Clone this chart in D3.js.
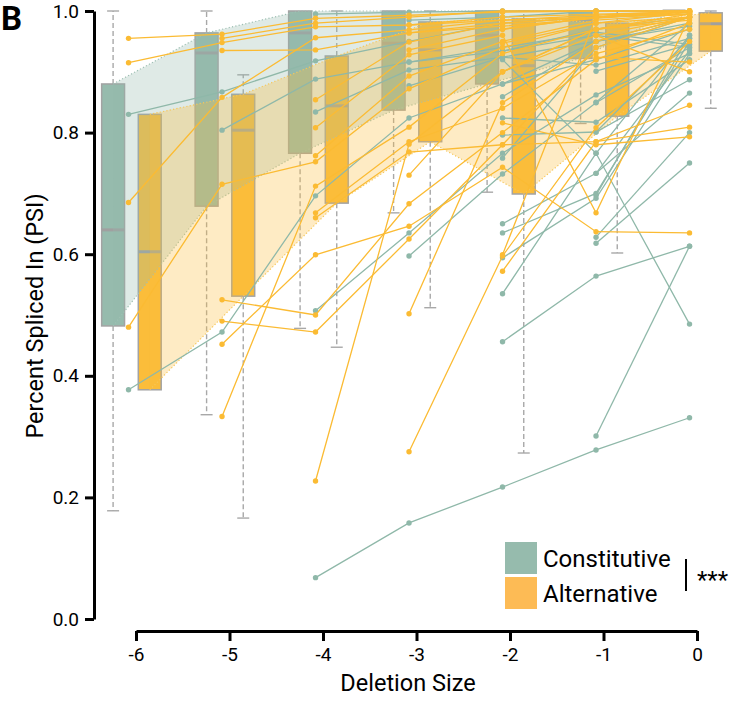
<!DOCTYPE html>
<html>
<head>
<meta charset="utf-8">
<script src="https://cdn.jsdelivr.net/npm/d3@7"></script>
<style>
  html, body { margin: 0; padding: 0; background: #fff; }
  svg { display: block; font-family: Roboto, "Noto Sans", sans-serif; }
</style>
</head>
<body>
<svg id="chart" width="739" height="708"></svg>
<script>
// ---------- data ----------
const deletionSizes = [-6, -5, -4, -3, -2, -1, 0];
const yTicks = [0, 0.2, 0.4, 0.6, 0.8, 1.0];

// constitutive box stats per deletion size
const constQ1     = [0.482, 0.679, 0.766, 0.837, 0.880, 0.922, 1.000];
const constMedian = [0.640, 0.931, 0.964, 0.947, 0.960, 0.985, 1.000];
const constQ3     = [0.880, 0.964, 1.000, 1.000, 1.000, 1.000, 1.000];
const constWhLow  = [0.178, 0.336, 0.478, 0.668, 0.702, 0.815, null];
const constWhHigh = [1.000, 1.000, null, null, null, null, null];

// alternative box stats per deletion size
const altQ1     = [0.377, 0.531, 0.684, 0.785, 0.699, 0.827, 0.934];
const altMedian = [0.604, 0.804, 0.844, 0.936, 0.910, 0.955, 0.979];
const altQ3     = [0.830, 0.863, 0.926, 0.982, 0.987, 0.980, 0.997];
const altWhLow  = [null, 0.166, 0.447, 0.512, 0.273, 0.602, 0.840];
const altWhHigh = [null, 0.895, 1.000, 1.000, 1.000, 1.000, 1.000];

// individual exons: [start deletion size, PSI at start, ..., PSI at 0]
const constLines = [
  [-6, 0.830, 0.867, 0.918, 0.950, 0.980, 0.990, 0.995],
  [-6, 0.377, 0.472, 0.696, 0.824, 0.880, 0.950, 0.990],
  [-5, 0.804, 0.888, 0.916, 0.934, 0.970, 0.990],
  [-4, 0.995, 0.998, 1.000, 1.000, 1.000],
  [-4, 0.834, 0.903, 0.924, 0.911, 0.955],
  [-4, 0.507, 0.635, 0.766, 0.862, 0.930],
  [-4, 0.068, 0.158, 0.217, 0.278, 0.331],
  [-3, 0.597, 0.732, 0.849, 0.940],
  [-3, 0.985, 0.990, 1.000, 1.000],
  [-3, 0.877, 0.924, 0.950, 0.975],
  [-3, 0.916, 0.940, 0.965, 0.945],
  [-2, 0.859, 0.950, 0.980],
  [-2, 0.824, 0.817, 0.920],
  [-2, 0.796, 0.801, 0.887],
  [-2, 0.758, 0.940, 0.990],
  [-2, 0.650, 0.733, 0.865],
  [-2, 0.635, 0.700, 0.950],
  [-2, 0.594, 0.692, 0.930],
  [-2, 0.535, 0.766, 0.960],
  [-2, 0.456, 0.564, 0.613],
  [-2, 0.920, 0.766, 0.485],
  [-2, 0.934, 0.960, 0.940],
  [-2, 0.880, 0.920, 0.970],
  [-1, 0.301, 0.613],
  [-1, 0.628, 0.800],
  [-1, 0.618, 0.750],
  [-1, 0.697, 0.960],
  [-1, 0.850, 0.980],
  [-1, 0.901, 0.945],
  [-1, 0.733, 0.935],
  [-1, 0.801, 0.955]
];
const altLines = [
  [-6, 0.955, 0.962, 0.988, 0.993, 0.998, 1.000, 1.000],
  [-6, 0.915, 0.948, 0.974, 0.977, 0.990, 0.995, 0.998],
  [-6, 0.685, 0.858, 0.956, 0.969, 0.985, 0.990, 0.995],
  [-6, 0.480, 0.715, 0.752, 0.872, 0.940, 0.980, 0.990],
  [-5, 0.955, 0.980, 0.990, 1.000, 1.000, 1.000],
  [-5, 0.935, 0.936, 0.964, 0.980, 0.990, 1.000],
  [-5, 0.525, 0.500, 0.683, 0.800, 0.920, 0.980],
  [-5, 0.490, 0.472, 0.625, 0.780, 0.940, 0.990],
  [-5, 0.452, 0.599, 0.646, 0.743, 0.637, 0.635],
  [-5, 0.333, 0.712, 0.809, 0.930, 0.970, 0.995],
  [-4, 0.854, 0.949, 0.980, 0.990, 1.000],
  [-4, 0.808, 0.928, 0.960, 0.668, 0.990],
  [-4, 0.762, 0.893, 0.950, 0.985, 0.995],
  [-4, 0.668, 0.785, 0.840, 0.930, 0.970],
  [-4, 0.660, 0.768, 0.780, 0.785, 0.845],
  [-4, 0.227, 0.781, 0.900, 0.970, 0.990],
  [-3, 0.502, 0.849, 0.950, 0.990],
  [-3, 0.275, 0.597, 0.808, 0.950],
  [-3, 0.730, 0.900, 0.960, 0.990],
  [-3, 0.936, 0.970, 0.990, 1.000],
  [-3, 0.977, 0.985, 0.993, 1.000],
  [-3, 0.964, 0.975, 0.988, 0.998],
  [-2, 0.572, 0.785, 0.809],
  [-2, 0.947, 0.980, 0.998],
  [-2, 0.816, 0.780, 0.793],
  [-2, 0.599, 0.990, 1.000],
  [-2, 0.970, 0.990, 1.000],
  [-2, 0.900, 0.970, 0.985],
  [-1, 0.924, 0.916],
  [-1, 0.960, 0.900],
  [-1, 0.990, 0.995]
];

// ---------- styles ----------
const TEAL = "#96bbad", ORANGE = "#fbbd3a";
const TEAL_LINE = "#8fb8a9", ORANGE_LINE = "#fbbb33";
const BOX_STROKE = "#a3a3a3";

const svg = d3.select("#chart");
const x = d3.scaleLinear().domain([-6, 0]).range([136, 697]);
const y = d3.scaleLinear().domain([0, 1]).range([619, 11]);
const constOff = -0.245, altOff = 0.147, ptOff = -0.08, boxW = 0.245;
const pxW = x(boxW) - x(0);

function boxes(g, q1, med, q3, lo, hi, off, fill) {
  deletionSizes.forEach((d, i) => {
    const cx = x(d + off);
    [[q1[i], lo[i]], [q3[i], hi[i]]].forEach(([a, b]) => {
      if (b === null || Math.abs(a - b) < 1e-6) return;
      g.append("line").attr("x1", cx).attr("x2", cx).attr("y1", y(a)).attr("y2", y(b))
        .attr("stroke", "#a8a8a8").attr("stroke-width", 1.4).attr("stroke-dasharray", "5,3");
      g.append("line").attr("x1", cx - 6).attr("x2", cx + 6).attr("y1", y(b)).attr("y2", y(b))
        .attr("stroke", "#a8a8a8").attr("stroke-width", 1.4);
    });
    g.append("rect").attr("x", cx - pxW / 2).attr("width", pxW)
      .attr("y", y(q3[i])).attr("height", Math.max(0.01, y(q1[i]) - y(q3[i])))
      .attr("fill", fill).attr("stroke", BOX_STROKE).attr("stroke-width", 1.5);
    g.append("line").attr("x1", cx - pxW / 2).attr("x2", cx + pxW / 2)
      .attr("y1", y(med[i])).attr("y2", y(med[i]))
      .attr("stroke", "#a0a0a0").attr("stroke-width", 3);
  });
}

const gBox = svg.append("g");
boxes(gBox, constQ1, constMedian, constQ3, constWhLow, constWhHigh, constOff, TEAL);
boxes(gBox, altQ1, altMedian, altQ3, altWhLow, altWhHigh, altOff, ORANGE);

// ---------- bands ----------
function band(q1, q3, off, fill, edge) {
  const pts = deletionSizes.map((d, i) => ({ d: d + off, lo: q1[i], hi: q3[i] }));
  svg.append("path").datum(pts)
    .attr("d", d3.area().x(p => x(p.d)).y0(p => y(p.lo)).y1(p => y(p.hi)))
    .attr("fill", fill).attr("fill-opacity", 0.3).attr("stroke", "none");
  [p => p.lo, p => p.hi].forEach(acc => {
    svg.append("path").datum(pts)
      .attr("d", d3.line().x(p => x(p.d)).y(p => y(acc(p))))
      .attr("fill", "none").attr("stroke", edge).attr("stroke-width", 1.2)
      .attr("stroke-dasharray", "1.2,2.2");
  });
}
band(constQ1, constQ3, constOff, TEAL, "#9fc0b4");
band(altQ1, altQ3, altOff, ORANGE, "#f6c75a");

// ---------- exon lines ----------
function exonLines(lines, color) {
  const g = svg.append("g");
  lines.forEach(row => {
    const start = row[0];
    const pts = row.slice(1).map((v, k) => ({ d: start + k, v }));
    g.append("path").datum(pts)
      .attr("d", d3.line().x(p => x(p.d + ptOff)).y(p => y(p.v)))
      .attr("fill", "none").attr("stroke", color).attr("stroke-width", 1.3);
    g.selectAll(null).data(pts).enter().append("circle")
      .attr("cx", p => x(p.d + ptOff)).attr("cy", p => y(p.v)).attr("r", 2.7)
      .attr("fill", color);
  });
}
exonLines(constLines, TEAL_LINE);
exonLines(altLines, ORANGE_LINE);

// ---------- axes ----------
const yAxis = svg.append("g").attr("transform", "translate(94,0)")
  .call(d3.axisLeft(y).tickValues(yTicks).tickFormat(d3.format(".1f")).tickSize(9).tickSizeOuter(0).tickPadding(6));
const xAxis = svg.append("g").attr("transform", "translate(0,631)")
  .call(d3.axisBottom(x).tickValues(deletionSizes).tickFormat(d => String(d)).tickSize(10).tickSizeOuter(0).tickPadding(7));
[yAxis, xAxis].forEach(a => {
  a.select(".domain").attr("stroke", "#000").attr("stroke-width", 3);
  a.selectAll(".tick line").attr("stroke", "#000").attr("stroke-width", 3);
  a.selectAll(".tick text").attr("fill", "#000").attr("font-size", 19)
    .attr("font-family", "Roboto, sans-serif");
});

svg.append("text").attr("transform", "translate(43,316) rotate(-90)")
  .attr("text-anchor", "middle").attr("font-size", 23.5).attr("fill", "#000")
  .text("Percent Spliced In (PSI)");
svg.append("text").attr("x", 408).attr("y", 691)
  .attr("text-anchor", "middle").attr("font-size", 23.5).attr("fill", "#000")
  .text("Deletion Size");
svg.append("text").attr("x", 1).attr("y", 30)
  .attr("font-size", 33).attr("font-weight", "bold").attr("fill", "#000").text("B");

// ---------- legend ----------
const legendLabels = ["Constitutive", "Alternative"];
const legendColors = [TEAL, "#fdbb55"];
legendLabels.forEach((lab, i) => {
  svg.append("rect").attr("x", 505).attr("y", 542 + i * 35).attr("width", 32).attr("height", 32)
    .attr("fill", legendColors[i]);
  svg.append("text").attr("x", 543).attr("y", 567 + i * 35).attr("font-size", 24)
    .attr("fill", "#000").text(lab);
});
svg.append("line").attr("x1", 686).attr("x2", 686).attr("y1", 559).attr("y2", 591)
  .attr("stroke", "#000").attr("stroke-width", 2);
svg.append("text").attr("x", 697).attr("y", 588).attr("font-size", 24).attr("fill", "#000").text("***");
</script>
</body>
</html>
